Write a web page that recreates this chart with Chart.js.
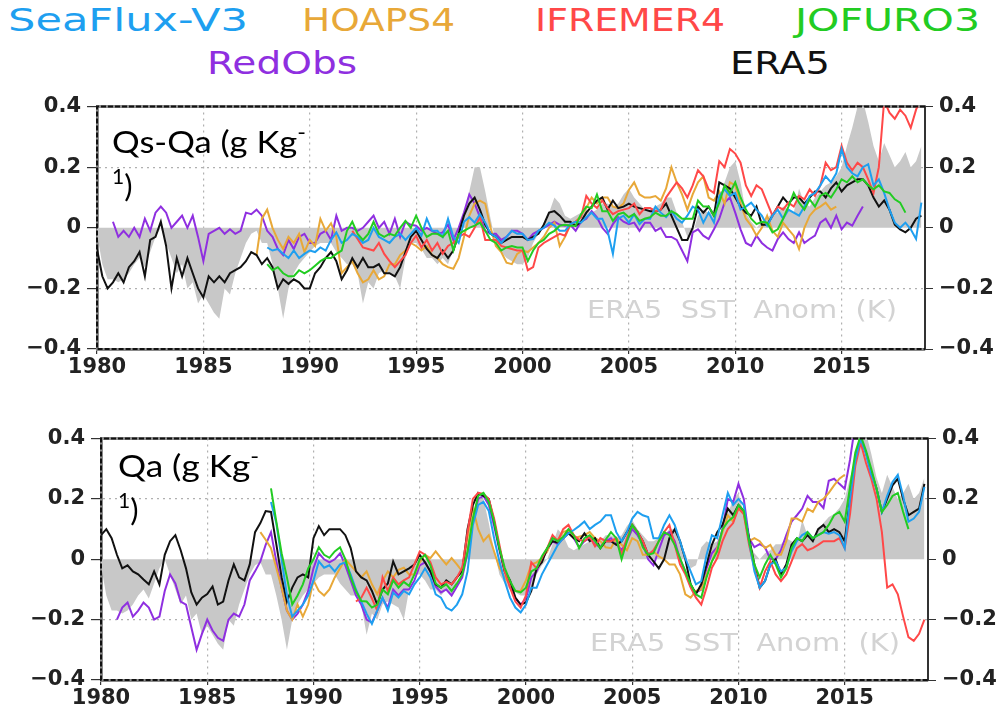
<!DOCTYPE html>
<html>
<head>
<meta charset="utf-8">
<script src="https://cdn.jsdelivr.net/npm/chart.js@4.4.1/dist/chart.umd.min.js"></script>
<style>
  html, body { margin: 0; padding: 0; background: #fff; }
  body { width: 1002px; height: 714px; position: relative; overflow: hidden; font-family: "DejaVu Sans", sans-serif; }
  .panel { position: absolute; left: 0; }
  .legend { position: absolute; font-size: 32px; line-height: 1; white-space: nowrap; transform-origin: 0 0; }
  .ptitle { position: absolute; font-family: "Lato", sans-serif; font-size: 31px; line-height: 44px; color: #000; white-space: nowrap; }
  .ptitle span.l { display: inline-block; transform-origin: 0 0; }
  .ptitle sup { font-size: 21px; vertical-align: 13px; line-height: 0; }
  .anom { position: absolute; font-size: 25px; line-height: 1; color: #d3d3d3; white-space: pre; transform-origin: 0 0; }
</style>
</head>
<body>

<div class="legend" style="left:8px;top:4px;color:#1e9ff0" data-w="240">SeaFlux-V3</div>
<div class="legend" style="left:302px;top:4px;color:#e8a838" data-w="153">HOAPS4</div>
<div class="legend" style="left:535px;top:4px;color:#ff4848" data-w="190">IFREMER4</div>
<div class="legend" style="left:795px;top:4px;color:#22cc22" data-w="185">JOFURO3</div>
<div class="legend" style="left:207px;top:47px;color:#8f2fe0" data-w="150">RedObs</div>
<div class="legend" style="left:730px;top:47px;color:#111" data-w="100">ERA5</div>

<div class="panel" style="top:88px"><canvas id="chart-qsqa" width="1002" height="292"></canvas></div>
<div class="panel" style="top:420px"><canvas id="chart-qa" width="1002" height="294"></canvas></div>

<div class="ptitle" style="left:112px;top:119px"><span class="l" data-w="194">Qs-Qa (g Kg<sup>-</sup></span><br><span class="l"><sup>1</sup>)</span></div>
<div class="ptitle" style="left:118px;top:443px"><span class="l" data-w="141">Qa (g Kg<sup>-</sup></span><br><span class="l"><sup>1</sup>)</span></div>

<div class="anom" style="left:587px;top:297px" data-w="310">ERA5  SST  Anom  (K)</div>
<div class="anom" style="left:590px;top:630px" data-w="310">ERA5  SST  Anom  (K)</div>

<script>
// ---- time axis ----
const YEAR_MIN = 1980;
const YEAR_MAX = 2018.92;
const STEP = 0.25; // quarterly samples
const xTickYears = [1980, 1985, 1990, 1995, 2000, 2005, 2010, 2015];
const yTickValues = [-0.4, -0.2, 0, 0.2, 0.4];

// ERA5 SST anomaly (K), shaded in both panels
const sstStart = 1980.0;
const sstAnom = [
  -0.02, -0.12, -0.17, -0.17,  -0.18, -0.17, -0.15, -0.12,  -0.10, -0.13, -0.08, -0.03,
   0.00, -0.05, -0.10, -0.15,  -0.12, -0.20, -0.18, -0.25,  -0.22, -0.25, -0.28, -0.30,
  -0.20, -0.22, -0.15, -0.10,  -0.05, -0.02, -0.01, -0.05,  -0.05, -0.12, -0.20, -0.30,
  -0.20, -0.15, -0.12, -0.10,  -0.08, -0.06, -0.05, -0.05,  -0.05, -0.08, -0.10, -0.12,
  -0.12, -0.15, -0.25, -0.18,  -0.20, -0.15, -0.14, -0.15,  -0.16, -0.20, -0.10, -0.05,
  -0.05, -0.07, -0.10, -0.10,  -0.12, -0.10, -0.12, -0.07,  -0.03,  0.05,  0.12,  0.20,
   0.20,  0.12,  0.03, -0.05,  -0.08, -0.10, -0.11, -0.12,  -0.12, -0.10, -0.05, -0.02,
   0.00,  0.05,  0.10,  0.08,   0.04,  0.03,  0.04,  0.05,   0.06,  0.05,  0.06,  0.08,
   0.08,  0.07,  0.08,  0.11,   0.13,  0.10,  0.08,  0.06,   0.06,  0.07,  0.08,  0.10,
   0.10,  0.05,  0.02, -0.03,  -0.02,  0.04,  0.06,  0.05,   0.06,  0.10,  0.15,  0.20,
   0.22,  0.15,  0.05,  0.02,   0.00,  0.02,  0.03,  0.05,   0.05,  0.07,  0.06,  0.05,
   0.13,  0.08,  0.07,  0.10,   0.12,  0.14,  0.15,  0.17,   0.20,  0.27,  0.33,  0.40,
   0.42,  0.35,  0.27,  0.22,   0.28,  0.24,  0.20,  0.22,   0.25,  0.20,  0.22,  0.27
];

// ---- Qs-Qa (g/kg) anomalies ----
const qsqaEra5Start = 1980.0;
const qsqaEra5 = [
  -0.07, -0.16, -0.20, -0.18,  -0.15, -0.18, -0.13, -0.11,  -0.08, -0.16, -0.04, -0.03,
   0.02, -0.06, -0.20, -0.10,  -0.16, -0.10, -0.15, -0.20,  -0.23, -0.16, -0.18, -0.16,
  -0.18, -0.15, -0.14, -0.13,  -0.11, -0.08, -0.09, -0.12,  -0.10, -0.13, -0.20, -0.17,
  -0.185, -0.17, -0.18, -0.20, -0.20, -0.15, -0.13, -0.10,  -0.08, -0.11, -0.17, -0.14,
  -0.10, -0.13, -0.10, -0.13,  -0.13, -0.12, -0.15, -0.15,  -0.16, -0.13, -0.08, -0.03,
  -0.01, -0.04, -0.07, -0.09,  -0.10, -0.075, -0.10, -0.075, -0.02, 0.04, 0.08, 0.10,
   0.06,  0.01, -0.02, -0.03,  -0.05, -0.04, -0.03, -0.03,  -0.03, -0.04, -0.03, -0.02,
   0.01,  0.05,  0.055, 0.04,   0.02,  0.02,  0.007, 0.02,   0.05,  0.07,  0.09,  0.10,
   0.06,  0.09,  0.065, 0.07,   0.08,  0.07,  0.065, 0.06,   0.055, 0.055, 0.06,  0.08,
   0.04,  0.00, -0.04, -0.04,   0.00,  0.07,  0.05,  0.07,   0.04,  0.15,  0.14,  0.13,
   0.10,  0.07,  0.05,  0.04,   0.07,  0.01,  0.01,  0.04,   0.07,  0.10,  0.08,  0.10,
   0.10,  0.08,  0.10,  0.12,   0.12,  0.10,  0.13,  0.15,   0.12,  0.14,  0.15,  0.16,
   0.16,  0.14,  0.10,  0.07,   0.09,  0.06,  0.01, -0.005, -0.015, 0.00,  0.03,  0.04
];

const qsqaRedObsStart = 1980.75;
const qsqaRedObs = [
   0.02,
  -0.03, -0.01, -0.03,  0.00,  -0.03,  0.03, -0.01,  0.05,   0.07,  0.05,  0.00,  0.02,
   0.04,  0.00,  0.04, -0.03,  -0.11, -0.02, -0.01,  0.00,  -0.02, -0.005, -0.02, -0.01,
   0.05,  0.045, 0.06,  0.04,  -0.01, -0.03, -0.07, -0.09,  -0.04, -0.07, -0.03, -0.02,
  -0.05, -0.05, -0.02, -0.01,  -0.04,  0.04, -0.01,  0.00,   0.00, -0.01,  0.00,  0.02,
   0.04,  0.00,  0.02, -0.02,   0.03, -0.03,  0.02,  0.01,   0.007, -0.01, 0.00, -0.01,
  -0.02, -0.015, 0.01, -0.04,   0.00,  0.05,  0.11,  0.08,   0.035, -0.01, -0.02, -0.02,
  -0.04, -0.03, -0.01, -0.01,  -0.02, -0.04, -0.02, -0.01,   0.00,  0.01,  0.02,  0.01,
   0.007, 0.01, -0.01,  0.02,   0.03,  0.055, 0.035, 0.00,  -0.02,  0.012, 0.035, 0.02,
   0.012, 0.017, -0.01, 0.017,  0.017, -0.01, 0.00, -0.03,  -0.03, -0.04, -0.075, -0.11,
  -0.015, -0.005, -0.026, -0.037, -0.005, 0.03, 0.083, 0.10,  0.05, -0.005, -0.05, -0.06,
  -0.026, -0.05, -0.065, -0.075, -0.037, -0.015, -0.037, -0.05, -0.015, -0.05, -0.037, -0.026,
   0.017, 0.03,  0.00,  0.04,  -0.005, 0.017, 0.007, 0.04,   0.07
];

const qsqaHoapsStart = 1987.5;
const qsqaHoaps = [
  -0.09,  0.03,
   0.06,  0.00, -0.04, -0.07,  -0.03, -0.05, -0.02, -0.08,  -0.04, -0.06,  0.03, -0.01,
   0.015, -0.03, -0.15, -0.13, -0.11, -0.15, -0.18, -0.17,  -0.14, -0.17, -0.16, -0.12,
  -0.12, -0.09, -0.075, -0.05, -0.06, -0.075, -0.06, -0.09, -0.10, -0.12, -0.13, -0.135,
  -0.10, -0.03,  0.04,  0.08,   0.09,  0.08,  0.00, -0.06,  -0.08, -0.115, -0.12, -0.086,
  -0.075, -0.08, -0.065, -0.05, -0.03, 0.00, 0.017, -0.06,  -0.03,  0.01,  0.02,  0.04,
   0.065, 0.10,  0.08,  0.10,   0.10,  0.07,  0.065, 0.08,   0.125, 0.15,  0.11,  0.10,
   0.10,  0.105, 0.09,  0.13,   0.20,  0.15,  0.11,  0.06,   0.11,  0.15,  0.17,  0.10,
   0.09,  0.12,  0.08,  0.15,   0.14,  0.08,  0.03,  0.007, -0.026, 0.00,  0.04, -0.01,
  -0.03,  0.017, -0.005, -0.026, -0.07, 0.00,  0.04,  0.06,   0.07,  0.083, 0.06,  0.07
];

const qsqaSeaFluxStart = 1988.0;
const qsqaSeaFlux = [
  -0.065, -0.075, -0.07, -0.086, -0.10, -0.075, -0.10, -0.086, -0.075, -0.08, -0.065, -0.075,
  -0.04, -0.015, -0.05, -0.04,  -0.02, -0.03, -0.05, -0.04,   0.00, -0.03, -0.04, -0.05,
  -0.03, -0.02, -0.04, -0.02,   0.00, -0.026, 0.03, -0.01,  -0.01, -0.03,  0.03, -0.03,
  -0.05,  0.02,  0.035, 0.017,  0.045, 0.017, -0.02, -0.03, -0.05, -0.03, -0.01, -0.02,
  -0.02, -0.04, -0.037, -0.01,  0.00,  0.017, 0.007, -0.01, -0.01,  0.012, 0.02,  0.017,
   0.035, 0.05,  0.03,  0.03,  -0.01, -0.086, 0.03,  0.04,   0.017, 0.045, 0.012, 0.03,
   0.03,  0.07,  0.05,  0.035,  0.055, 0.03,  0.017, 0.04,   0.07,  0.06,  0.017, 0.05,
   0.017, 0.105, 0.127, 0.105,  0.115, 0.06,  0.07,  0.083,  0.06,  0.04,  0.007, 0.04,
   0.06,  0.03,  0.06,  0.05,   0.04,  0.07,  0.105, 0.115,  0.14,  0.17,  0.15,  0.18,
   0.26,  0.20,  0.18,  0.17,   0.20,  0.21,  0.14,  0.16,   0.115, 0.06,  0.017, 0.00,
   0.017, -0.005, -0.037, 0.083
];

const qsqaJofuroStart = 1988.0;
const qsqaJofuro = [
  -0.12, -0.14, -0.13, -0.15,  -0.16, -0.16, -0.14, -0.15,  -0.14, -0.125, -0.11, -0.10,
  -0.10, -0.086, -0.075, -0.01, 0.02, -0.02, -0.04, -0.02,   0.02, -0.02, -0.03, -0.02,
  -0.026, 0.00,  0.023, 0.00,   0.04,  0.00, -0.03, -0.02,  -0.02, -0.03, -0.01, -0.075,
  -0.02, -0.01,  0.00,  0.007,  0.017, -0.01, -0.04, -0.05, -0.075, -0.065, -0.06, -0.065,
  -0.065, -0.11, -0.075, -0.05, -0.04, -0.02, -0.01, 0.007,  0.01,  0.007, 0.007, 0.045,
   0.07,  0.065, 0.11,  0.055,  0.055, 0.023, 0.045, 0.05,   0.035, 0.045, 0.023, 0.03,
   0.035, 0.05,  0.04,  0.04,   0.055, 0.045, 0.03,  0.03,   0.03,  0.09,  0.07,  0.07,
   0.04,  0.083, 0.14,  0.115,  0.15,  0.10,  0.06,  0.03,   0.012, 0.02,  0.017, -0.015,
  -0.005, 0.03,  0.07,  0.115,  0.083, 0.06,  0.094, 0.07,   0.105, 0.115, 0.10,  0.127,
   0.16,  0.15,  0.17,  0.15,   0.16,  0.14,  0.127, 0.14,   0.12,  0.115, 0.094, 0.083,
   0.05
];

const qsqaIfremerStart = 1992.0;
const qsqaIfremer = [
  -0.01, -0.037, -0.065, -0.07, -0.075, -0.05, -0.086, -0.11, -0.13, -0.11, -0.09, -0.05,
  -0.026, -0.065, -0.04, -0.075, -0.05, -0.086, -0.06, -0.05, -0.03, -0.02, -0.03, 0.00,
   0.035, -0.04, -0.04, -0.04,  -0.06, -0.065, -0.07, -0.075, -0.075, -0.14, -0.13, -0.065,
  -0.05, -0.04, -0.03, -0.02,  -0.026, 0.012, 0.02,  0.035,  0.105, 0.08,  0.065, 0.09,
   0.065, 0.045, 0.055, 0.06,   0.065, 0.08,  0.045, 0.065,  0.065, 0.055, 0.06,  0.10,
   0.125, 0.15,  0.13,  0.10,   0.14,  0.19,  0.17,  0.127,  0.115, 0.22,  0.20,  0.26,
   0.245, 0.215, 0.14,  0.105,  0.14,  0.127, 0.083, 0.04,   0.07,  0.06,  0.083, 0.07,
   0.105, 0.094, 0.127, 0.105,  0.14,  0.215, 0.19,  0.20,   0.27,  0.215, 0.19,  0.215,
   0.20,  0.16,  0.115, 0.20,   0.42,  0.38,  0.36,  0.39,   0.37,  0.33,  0.39,  0.43
];

// ---- Qa (g/kg) anomalies ----
const qaEra5Start = 1980.0;
const qaEra5 = [
   0.08,  0.10,  0.07,  0.015, -0.03, -0.02, -0.04, -0.05,  -0.067, -0.083, -0.04, -0.083,
   0.015, 0.06,  0.08,  0.03,  -0.03, -0.11, -0.15, -0.127, -0.115, -0.09, -0.15, -0.14,
  -0.07, -0.017, -0.06, -0.07, -0.017, 0.09,  0.12,  0.16,   0.157, 0.05, -0.06, -0.14,
  -0.094, -0.06, -0.05, -0.06,  0.07,  0.11,  0.08,  0.10,   0.10,  0.10,  0.08,  0.037,
  -0.04, -0.06, -0.07, -0.105, -0.15, -0.10, -0.08, -0.007, -0.05, -0.04, -0.03, -0.017,
   0.015, -0.01, -0.04, -0.083, -0.094, -0.07, -0.083, -0.06, -0.04, 0.10, 0.18, 0.22,
   0.21,  0.20,  0.125, 0.037, -0.04, -0.07, -0.127, -0.15, -0.143, -0.105, -0.03, -0.01,
   0.037, 0.06,  0.055, 0.07,   0.086, 0.07,  0.06,  0.086,  0.06,  0.07,  0.037, 0.06,
   0.06,  0.048, 0.06,  0.09,   0.114, 0.09,  0.06,  0.015, -0.007, -0.03, 0.00,  0.07,
   0.10,  0.06,  0.00, -0.083, -0.115, -0.083, -0.017, 0.048, 0.09,  0.114, 0.168, 0.146,
   0.18,  0.16,  0.07, -0.017, -0.094, -0.072, -0.017, 0.00, -0.05, -0.017, 0.048, 0.07,
   0.06,  0.08,  0.06,  0.10,   0.114, 0.09,  0.10,  0.09,   0.06,  0.20,  0.33,  0.40,
   0.354, 0.29,  0.234, 0.157,  0.20,  0.245, 0.267, 0.20,   0.146, 0.157, 0.168, 0.25
];

const qaRedObsStart = 1980.75;
const qaRedObs = [
  -0.20,
  -0.16, -0.143, -0.19, -0.17, -0.143, -0.16, -0.20, -0.19,  -0.105, -0.05, -0.08, -0.14,
  -0.15, -0.225, -0.30, -0.247, -0.20, -0.236, -0.26, -0.27, -0.20, -0.18, -0.19, -0.15,
  -0.07, -0.04, -0.007, 0.048,  0.09, -0.007, -0.094, -0.17, -0.20, -0.18, -0.15, -0.105,
  -0.03,  0.02,  0.00, -0.01,   0.00,  0.02, -0.02, -0.07,  -0.12, -0.15, -0.20, -0.21,
  -0.17, -0.13, -0.16, -0.10,  -0.12, -0.10, -0.10, -0.07,  -0.02, -0.01, -0.04, -0.09,
  -0.11, -0.10, -0.12, -0.09,  -0.06,  0.02,  0.13,  0.20,   0.21,  0.18,  0.11,  0.03,
  -0.04, -0.09, -0.13, -0.15,  -0.13, -0.06, -0.04,  0.00,   0.03,  0.06,  0.05,  0.07,
   0.09,  0.07,  0.04,  0.06,   0.07,  0.05,  0.04,  0.06,   0.07,  0.05,  0.03,  0.06,
   0.10,  0.08,  0.05,  0.00,  -0.02,  0.03,  0.08,  0.09,   0.06,  0.00, -0.04, -0.09,
  -0.11, -0.10, -0.03,  0.02,   0.04,  0.10,  0.20,  0.19,   0.25,  0.20,  0.07,  0.04,
   0.05,  0.04,  0.00,  0.00,   0.03,  0.08,  0.125, 0.146,  0.168, 0.21,  0.19,  0.19,
   0.17,  0.26,  0.267, 0.25,   0.234, 0.33,  0.45,  0.50
];

const qaHoapsStart = 1987.5;
const qaHoaps = [
   0.09,  0.065,
   0.037, -0.028, -0.094, -0.17, -0.20, -0.15, -0.19, -0.15, -0.07, -0.105, -0.12, -0.10,
  -0.06, -0.03,  0.00, -0.02,  -0.04, -0.06, -0.04, -0.083, -0.116, -0.072, -0.04, -0.06,
  -0.035, -0.028, -0.05, -0.05, -0.01, 0.015, 0.004, 0.026,  0.004, -0.017, 0.004, -0.017,
  -0.04,  0.07,  0.17,  0.10,   0.06,  0.08,  0.026, -0.028, -0.06, -0.083, -0.105, -0.105,
  -0.07, -0.017, -0.01, 0.004,  0.026, 0.07,  0.065, 0.09,   0.097, 0.07,  0.075, 0.08,
   0.09,  0.07,  0.06,  0.04,   0.037, 0.07,  0.048, 0.03,   0.07,  0.06,  0.015, 0.015,
   0.026, 0.01,  0.00, -0.017, -0.017, -0.05, -0.116, -0.127, -0.105, -0.10, -0.05, -0.007,
   0.037, 0.09,  0.146, 0.125,  0.168, 0.15,  0.06,  0.07,   0.06,  0.037, 0.048, 0.015,
   0.015, 0.06,  0.135, 0.135,  0.125, 0.168, 0.157, 0.19,   0.20,  0.22,  0.245, 0.267,
   0.28
];

const qaSeaFluxStart = 1988.0;
const qaSeaFlux = [
   0.19,  0.12,  0.00, -0.12,  -0.19, -0.17, -0.15, -0.12,  -0.07, -0.007, -0.028, -0.02,
  -0.04, -0.017, -0.01, -0.05, -0.10, -0.14, -0.18, -0.214, -0.17, -0.127, -0.17, -0.11,
  -0.127, -0.105, -0.116, -0.083, -0.06, -0.03, -0.06, -0.116, -0.127, -0.16, -0.17, -0.15,
  -0.116, -0.04, 0.114, 0.18,   0.19,  0.16,  0.07, -0.007, -0.072, -0.127, -0.16, -0.176,
  -0.15, -0.094, -0.094, -0.05, -0.017, 0.015, 0.048, 0.07,  0.086, 0.097, 0.11,  0.125,
   0.10,  0.114, 0.125, 0.146,  0.146, 0.09,  0.06,  0.09,   0.135, 0.157, 0.146, 0.14,
   0.07,  0.07,  0.114, 0.146,  0.114, 0.06,  0.004, -0.04, -0.083, -0.072, 0.015, 0.08,
   0.07,  0.146, 0.22,  0.18,   0.20,  0.18,  0.06, -0.04,  -0.094, -0.072, -0.017, -0.007,
  -0.04, -0.028, 0.026, 0.06,   0.08,  0.09,  0.07,  0.08,   0.09,  0.085, 0.09,  0.08,
   0.037, 0.20,  0.33,  0.40,   0.35,  0.28,  0.234, 0.157,  0.21,  0.256, 0.28,  0.21,
   0.125, 0.135, 0.157, 0.24
];

const qaJofuroStart = 1988.0;
const qaJofuro = [
   0.235, 0.125, 0.02, -0.06,  -0.15, -0.12, -0.083, -0.03,  0.00,  0.04,  0.015, 0.005,
   0.026, 0.04,  0.00, -0.06,  -0.105, -0.138, -0.14, -0.16, -0.15, -0.10, -0.116, -0.07,
  -0.094, -0.075, -0.088, -0.05, 0.00, 0.015, -0.02, -0.08, -0.094, -0.083, -0.105, -0.08,
  -0.05,  0.026, 0.135, 0.21,   0.22,  0.19,  0.125, 0.037, -0.028, -0.072, -0.105, -0.11,
  -0.094, -0.04, -0.03, 0.01,   0.037, 0.07,  0.06,  0.075,  0.10,  0.08,  0.037, 0.07,
   0.08,  0.06,  0.037, 0.065,  0.09,  0.07,  0.00,  0.06,   0.114, 0.09,  0.04,  0.015,
   0.02,  0.06,  0.09,  0.08,   0.048, 0.004, -0.04, -0.083, -0.116, -0.127, -0.06, -0.007,
   0.026, 0.10,  0.125, 0.14,   0.18,  0.16,  0.06, -0.017, -0.06, -0.017, 0.015, -0.017,
  -0.06, -0.03,  0.037, 0.07,   0.06,  0.09,  0.07,  0.08,   0.09,  0.114, 0.146, 0.157,
   0.125, 0.24,  0.354, 0.41,   0.36,  0.30,  0.234, 0.157,  0.18,  0.21,  0.22,  0.157,
   0.10
];

const qaIfremerStart = 1992.0;
const qaIfremer = [
  -0.14, -0.127, -0.094, -0.13, -0.17, -0.06, -0.105, -0.06, -0.083, -0.07, -0.06, -0.017,
   0.026, 0.015, -0.01, -0.06, -0.083, -0.075, -0.083, -0.06, -0.028, 0.09,  0.20,  0.22,
   0.217, 0.20,  0.135, 0.048, -0.04, -0.094, -0.14, -0.16, -0.12, -0.01, -0.03,  0.004,
   0.037, 0.08,  0.06,  0.10,   0.114, 0.08,  0.065, 0.06,   0.075, 0.043, 0.07,  0.06,
   0.06,  0.07,  0.015, 0.07,   0.114, 0.09,  0.06,  0.015,  0.03,  0.06,  0.09,  0.114,
   0.048, -0.017, -0.05, -0.094, -0.127, -0.15, -0.094, -0.028, 0.004, 0.06, 0.10, 0.12,
   0.17,  0.15,  0.048, -0.028, -0.094, -0.04, -0.007, -0.05, -0.072, -0.05, -0.007, 0.037,
   0.05,  0.03,  0.037, 0.048,  0.06,  0.06,  0.06,  0.07,   0.037, 0.15,  0.31,  0.387,
   0.32,  0.267, 0.20,  0.09,  -0.094, -0.083, -0.116, -0.19, -0.258, -0.27, -0.247, -0.20
];

// ---- styling ----
const COLORS = {
  seaflux: '#1e9ff0',
  hoaps: '#e8a838',
  ifremer: '#ff4848',
  jofuro: '#22cc22',
  redobs: '#8f2fe0',
  era5: '#111111',
  sst: '#c8c8c8'
};
const TICK_FONT = { family: 'DejaVu Sans', size: 21, weight: 'bold' };
const AXIS_COLOR = '#333';
const GRID_COLOR = '#b0b0b0';

function toPoints(start, values) {
  return values.map((v, i) => ({ x: start + i * STEP, y: v }));
}

function lineSet(label, start, values, color, order) {
  return {
    label: label,
    data: toPoints(start, values),
    borderColor: color,
    backgroundColor: color,
    borderWidth: 2,
    fill: false,
    order: order
  };
}

function sstSet() {
  return {
    label: 'ERA5 SST Anom',
    data: toPoints(sstStart, sstAnom),
    borderWidth: 0,
    borderColor: 'transparent',
    backgroundColor: COLORS.sst,
    fill: 'origin',
    order: 10
  };
}

function fmtTick(v) {
  if (Math.abs(v) < 1e-9) return '0';
  return (v < 0 ? '\u2212' : '') + Math.abs(v).toFixed(1);
}

// dark dashes over the grey frame on the top, left and bottom edges
const frameDash = {
  id: 'frameDash',
  afterDraw(chart) {
    const { ctx, chartArea: a } = chart;
    ctx.save();
    ctx.strokeStyle = '#111';
    ctx.lineWidth = 2;
    ctx.setLineDash([5, 2]);
    ctx.beginPath();
    ctx.moveTo(a.right, a.top);
    ctx.lineTo(a.left, a.top);
    ctx.lineTo(a.left, a.bottom);
    ctx.lineTo(a.right, a.bottom);
    ctx.stroke();
    ctx.restore();
  }
};

/**
 * Build one panel; geom holds the fixed axis sizes around the plot area
 */
function panelConfig(datasets, geom) {
  return {
    type: 'line',
    data: { datasets: datasets },
    plugins: [frameDash],
    options: {
      responsive: false,
      animation: false,
      events: [],
      layout: { padding: 0 },
      elements: { point: { radius: 0 }, line: { tension: 0 } },
      plugins: { legend: { display: false }, tooltip: { enabled: false } },
      scales: {
        x: {
          type: 'linear',
          position: 'bottom',
          min: YEAR_MIN,
          max: YEAR_MAX,
          afterBuildTicks: (s) => { s.ticks = xTickYears.map(v => ({ value: v })); },
          afterFit: (s) => { s.height = geom.bottom; },
          ticks: {
            autoSkip: false,
            maxRotation: 0,
            padding: 1,
            color: '#222',
            font: TICK_FONT,
            callback: (v) => String(v)
          },
          grid: {
            color: (c) => (c.tick && c.tick.value > YEAR_MIN) ? GRID_COLOR : 'transparent',
            tickColor: AXIS_COLOR,
            tickLength: 5,
            lineWidth: 1.2
          },
          border: { color: '#8a8a8a', width: 3, dash: [2, 4] }
        },
        xTop: {
          type: 'linear',
          position: 'top',
          min: YEAR_MIN,
          max: YEAR_MAX,
          afterFit: (s) => { s.height = geom.top; },
          ticks: { display: false },
          grid: { display: false },
          border: { color: '#8a8a8a', width: 3 }
        },
        y: {
          type: 'linear',
          position: 'left',
          min: -0.4,
          max: 0.4,
          afterBuildTicks: (s) => { s.ticks = yTickValues.map(v => ({ value: v })); },
          afterFit: (s) => { s.width = geom.left; },
          ticks: { padding: 6, color: '#222', font: TICK_FONT, callback: fmtTick },
          grid: {
            color: (c) => (c.tick && Math.abs(Math.abs(c.tick.value) - 0.2) < 1e-6) ? GRID_COLOR : 'transparent',
            tickColor: AXIS_COLOR,
            tickLength: 10,
            lineWidth: 1.2
          },
          border: { color: '#8a8a8a', width: 3, dash: [2, 4] }
        },
        y1: {
          type: 'linear',
          position: 'right',
          min: -0.4,
          max: 0.4,
          afterBuildTicks: (s) => { s.ticks = yTickValues.map(v => ({ value: v })); },
          afterFit: (s) => { s.width = geom.right; },
          ticks: { padding: 6, color: '#222', font: TICK_FONT, callback: fmtTick },
          grid: { drawOnChartArea: false, tickColor: AXIS_COLOR, tickLength: 8 },
          border: { color: AXIS_COLOR, width: 2 }
        }
      }
    }
  };
}

const qsqaChart = new Chart(document.getElementById('chart-qsqa'), panelConfig([
  sstSet(),
  lineSet('RedObs', qsqaRedObsStart, qsqaRedObs, COLORS.redobs, 6),
  lineSet('HOAPS4', qsqaHoapsStart, qsqaHoaps, COLORS.hoaps, 5),
  lineSet('ERA5', qsqaEra5Start, qsqaEra5, COLORS.era5, 4),
  lineSet('IFREMER4', qsqaIfremerStart, qsqaIfremer, COLORS.ifremer, 3),
  lineSet('SeaFlux-V3', qsqaSeaFluxStart, qsqaSeaFlux, COLORS.seaflux, 2),
  lineSet('JOFURO3', qsqaJofuroStart, qsqaJofuro, COLORS.jofuro, 1)
], { top: 17, bottom: 31, left: 97, right: 77 }));

const qaChart = new Chart(document.getElementById('chart-qa'), panelConfig([
  sstSet(),
  lineSet('RedObs', qaRedObsStart, qaRedObs, COLORS.redobs, 6),
  lineSet('HOAPS4', qaHoapsStart, qaHoaps, COLORS.hoaps, 5),
  lineSet('ERA5', qaEra5Start, qaEra5, COLORS.era5, 4),
  lineSet('IFREMER4', qaIfremerStart, qaIfremer, COLORS.ifremer, 3),
  lineSet('SeaFlux-V3', qaSeaFluxStart, qaSeaFlux, COLORS.seaflux, 2),
  lineSet('JOFURO3', qaJofuroStart, qaJofuro, COLORS.jofuro, 1)
], { top: 16, bottom: 34, left: 101, right: 74 }));

// stretch the overlay labels to their widths
document.querySelectorAll('[data-w]').forEach(el => {
  const w = el.getBoundingClientRect().width;
  if (w > 0) el.style.transform = 'scaleX(' + (parseFloat(el.dataset.w) / w) + ')';
});
</script>
</body>
</html>
